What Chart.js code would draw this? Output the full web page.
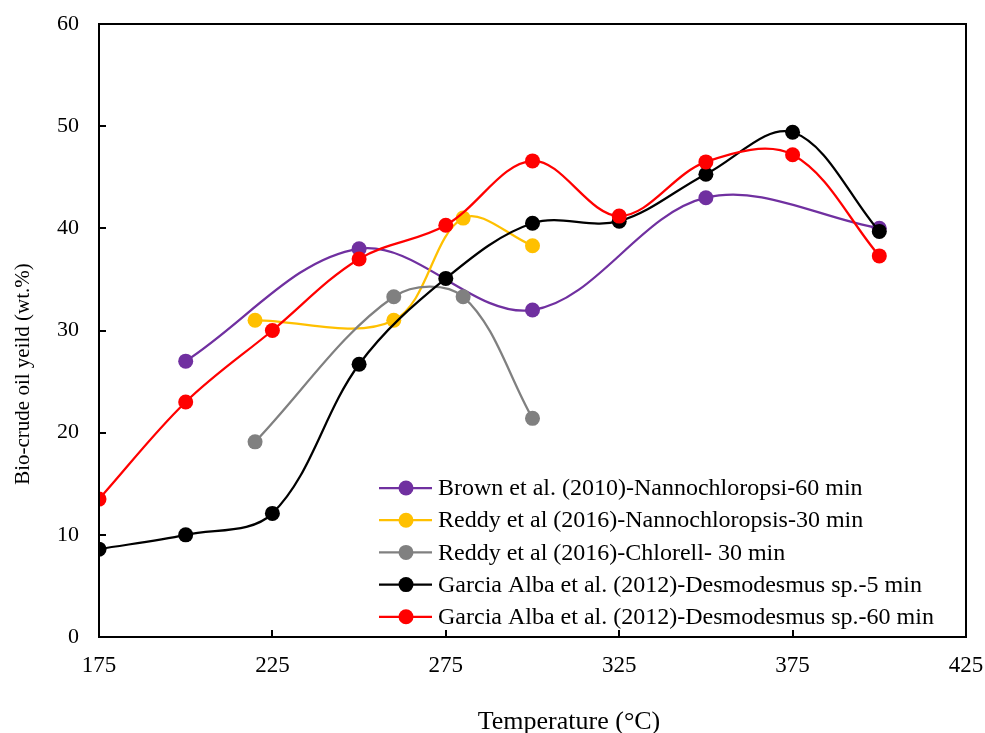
<!DOCTYPE html>
<html>
<head>
<meta charset="utf-8">
<script src="https://cdn.jsdelivr.net/npm/chart.js@4"></script>
<style>
  html, body { margin: 0; padding: 0; background: #fff; }
  #wrap { width: 985px; height: 733px; }
</style>
</head>
<body>
<div id="wrap"><canvas id="yieldChart" width="985" height="733"></canvas></div>
<script>
// tick labels
const xTicks = [175, 225, 275, 325, 375, 425];
const yTicks = [0, 10, 20, 30, 40, 50, 60];

// series
const brownTemp = [200, 250, 300, 350, 400];
const brownYield = [27.0, 38.0, 32.0, 43.0, 40.0];

const reddyNannoTemp = [220, 260, 280, 300];
const reddyNannoYield = [31.0, 31.0, 41.0, 38.3];

const reddyChlorTemp = [220, 260, 280, 300];
const reddyChlorYield = [19.1, 33.3, 33.3, 21.4];

const garciaTemp = [175, 200, 225, 250, 275, 300, 325, 350, 375, 400];
const garcia5Yield = [8.6, 10.0, 12.1, 26.7, 35.1, 40.5, 40.7, 45.3, 49.4, 39.7];
const garcia60Yield = [13.5, 23.0, 30.0, 37.0, 40.3, 46.6, 41.2, 46.5, 47.2, 37.3];

const seriesNames = [
  'Brown et al. (2010)-Nannochloropsi-60 min',
  'Reddy et al (2016)-Nannochloropsis-30 min',
  'Reddy et al (2016)-Chlorell- 30 min',
  'Garcia Alba et al. (2012)-Desmodesmus sp.-5 min',
  'Garcia Alba et al. (2012)-Desmodesmus sp.-60 min'
];
const seriesColors = ['#7030A0', '#FFC000', '#808080', '#000000', '#FF0000'];

const xTitle = 'Temperature (°C)';
const yTitle = 'Bio-crude oil yeild (wt.%)';

const FONT = '"Liberation Serif", "Times New Roman", serif';

function pts(xs, ys) {
  return xs.map((x, i) => ({ x: x, y: ys[i] }));
}

const seriesData = [
  pts(brownTemp, brownYield),
  pts(reddyNannoTemp, reddyNannoYield),
  pts(reddyChlorTemp, reddyChlorYield),
  pts(garciaTemp, garcia5Yield),
  pts(garciaTemp, garcia60Yield)
];

const datasets = seriesData.map((d, i) => ({
  label: seriesNames[i],
  data: d,
  borderColor: seriesColors[i],
  backgroundColor: seriesColors[i],
  borderWidth: 2.25,
  pointRadius: 7.5,
  pointHoverRadius: 7.5,
  pointBorderWidth: 0,
  tension: 0.35,
  order: 5 - i
}));

// inward ticks, top/right frame, axis titles, in-plot legend
const framePlugin = {
  id: 'frame',
  afterDraw(chart) {
    const ctx = chart.ctx;
    const a = chart.chartArea;
    const xs = chart.scales.x;
    const ys = chart.scales.y;
    ctx.save();
    ctx.strokeStyle = '#000';
    ctx.lineWidth = 2;
    ctx.strokeRect(a.left, a.top, a.right - a.left, a.bottom - a.top);
    ctx.beginPath();
    xTicks.forEach(v => {
      const px = Math.round(xs.getPixelForValue(v));
      ctx.moveTo(px, a.bottom);
      ctx.lineTo(px, a.bottom - 7);
    });
    yTicks.forEach(v => {
      const py = Math.round(ys.getPixelForValue(v));
      ctx.moveTo(a.left, py);
      ctx.lineTo(a.left + 7, py);
    });
    ctx.stroke();

    // axis titles
    ctx.fillStyle = '#000';
    ctx.textAlign = 'center';
    ctx.textBaseline = 'alphabetic';
    ctx.font = '26px ' + FONT;
    ctx.fillText(xTitle, 569, 729);
    ctx.save();
    ctx.translate(29, 374);
    ctx.rotate(-Math.PI / 2);
    ctx.font = '21px ' + FONT;
    ctx.fillText(yTitle, 0, 0);
    ctx.restore();

    // legend
    const lx = 379, ly = 488, gap = 32.2;
    ctx.font = '24px ' + FONT;
    ctx.textBaseline = 'middle';
    ctx.textAlign = 'left';
    seriesNames.forEach((name, i) => {
      const y = ly + i * gap;
      ctx.strokeStyle = seriesColors[i];
      ctx.fillStyle = seriesColors[i];
      ctx.lineWidth = 2.25;
      ctx.beginPath();
      ctx.moveTo(lx, y);
      ctx.lineTo(lx + 53, y);
      ctx.stroke();
      ctx.beginPath();
      ctx.arc(lx + 27, y, 7.5, 0, Math.PI * 2);
      ctx.fill();
      ctx.fillStyle = '#000';
      ctx.fillText(name, lx + 59, y + 1);
    });
    ctx.restore();
  }
};

new Chart(document.getElementById('yieldChart'), {
  type: 'line',
  data: { datasets: datasets },
  options: {
    responsive: false,
    animation: false,
    events: [],
    layout: { padding: { top: 24, right: 19, left: 0, bottom: 0 } },
    plugins: {
      legend: { display: false },
      tooltip: { enabled: false }
    },
    scales: {
      x: {
        type: 'linear',
        min: 175,
        max: 425,
        afterBuildTicks: s => { s.ticks = xTicks.map(v => ({ value: v })); },
        afterFit: s => {
          s.height = 96;
          s.paddingLeft = 0;
          s.paddingRight = 0;
        },
        grid: { display: false, drawTicks: false },
        border: { display: true, color: '#000', width: 2 },
        ticks: {
          color: '#000',
          font: { family: FONT, size: 23 },
          padding: 15,
          maxRotation: 0
        }
      },
      y: {
        min: 0,
        max: 60,
        afterBuildTicks: s => { s.ticks = yTicks.map(v => ({ value: v })); },
        afterFit: s => {
          s.width = 99;
          s.paddingTop = 0;
          s.paddingBottom = 0;
        },
        grid: { display: false, drawTicks: false },
        border: { display: true, color: '#000', width: 2 },
        ticks: {
          color: '#000',
          font: { family: FONT, size: 22 },
          padding: 20
        }
      }
    }
  },
  plugins: [framePlugin]
});
</script>
</body>
</html>
